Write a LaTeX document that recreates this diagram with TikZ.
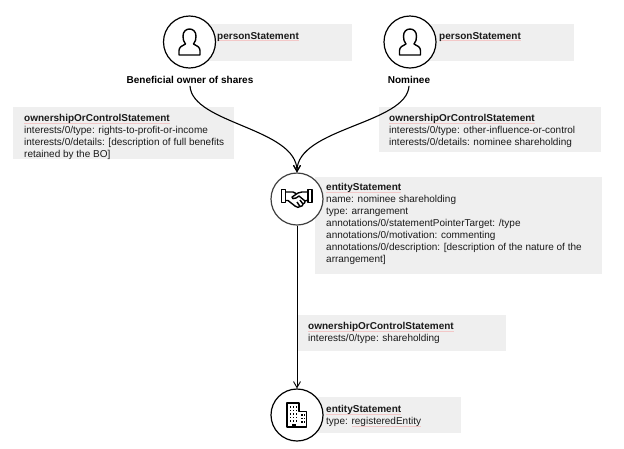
\documentclass[tikz,border=0pt]{standalone}
\usepackage{fontspec}
\setmainfont{Liberation Sans}
\usetikzlibrary{arrows.meta,calc}
\definecolor{panel}{HTML}{EFEFEF}
\definecolor{ink}{HTML}{1A1A1A}
\definecolor{squig}{HTML}{F3C8C8}
\newsavebox{\sqbox}
\newcommand{\sq}[1]{\sbox{\sqbox}{#1}\leavevmode\rlap{\color{squig}\rule[-1.7pt]{\wd\sqbox}{0.6pt}}\usebox{\sqbox}}
\tikzset{
  x=1pt,y=-1pt,
  panelbox/.style={fill=panel,draw=none,inner sep=0pt,anchor=north west},
  paneltext/.style={inner sep=0pt,anchor=north west,align=left,font=\fontsize{10}{11.9}\selectfont,text=ink},
  caption/.style={inner sep=1pt,font=\fontsize{10}{12}\bfseries\selectfont,text=black},
  circ/.style={circle,draw=black,fill=white,line width=1.2pt,minimum size=52pt,inner sep=0pt},
  link/.style={draw=black,line width=1.1pt,-{Straight Barb[length=6pt,width=7pt,line width=1.1pt]}},
  thinlink/.style={draw=black,line width=0.8pt,-{Straight Barb[length=6pt,width=7pt,line width=0.9pt]}},
  icon/.style={draw=black,line width=1.4pt,line join=round}
}
\begin{document}
\begin{tikzpicture}
\useasboundingbox (0,0) rectangle (624,448);
% panels
\node[panelbox,minimum width=152pt,minimum height=37pt] (p1) at (200,24) {};
\node[panelbox,minimum width=154pt,minimum height=37pt] (p2) at (420,24) {};
\node[panelbox,minimum width=221pt,minimum height=52pt] (o1) at (13,107) {};
\node[panelbox,minimum width=222pt,minimum height=45pt] (o2) at (379,107) {};
\node[panelbox,minimum width=287pt,minimum height=97pt] (e1) at (315,177) {};
\node[panelbox,minimum width=208pt,minimum height=36pt] (o3) at (298,315) {};
\node[panelbox,minimum width=146pt,minimum height=36pt] (e2) at (315,397) {};
% panel texts
\node[paneltext] (tp1) at (217,32) {\textbf{\sq{personStatement}}};
\node[paneltext] (tp2) at (439,32) {\textbf{\sq{personStatement}}};
\node[paneltext] (to1) at (24,114.5) {\textbf{\sq{ownershipOrControlStatement}}\\interests/0/type: rights-to-profit-or-income\\interests/0/details: [description of full benefits\\retained by the BO]};
\node[paneltext] (to2) at (389,114.5) {\textbf{\sq{ownershipOrControlStatement}}\\interests/0/type: other-influence-or-control\\interests/0/details: nominee shareholding};
\node[paneltext] (te1) at (326,183.5) {\textbf{\sq{entityStatement}}\\name: nominee shareholding\\type: arrangement\\annotations/0/statementPointerTarget: /type\\annotations/0/motivation: commenting\\annotations/0/description: [description of the nature of the\\arrangement]};
\node[paneltext] (to3) at (308,322.5) {\textbf{\sq{ownershipOrControlStatement}}\\interests/0/type: shareholding};
\node[paneltext] (te2) at (326,405.5) {\textbf{\sq{entityStatement}}\\type: \sq{registeredEntity}};
% circles
\node[circ] (bo) at (189.5,42) {};
\node[circ] (nom) at (410,42) {};
\node[circ,draw=black!75] (arr) at (297,199) {};
\node[circ] (reg) at (297,415) {};
% captions
\node[caption] (cbo) at (190,80) {Beneficial owner of shares};
\node[caption] (cnom) at (409,80) {Nominee};
% connectors
\draw[link] (cbo.south) ++(0,1) .. controls +(2,38) and (297,128) .. (arr.north);
\draw[link] (cnom.south) ++(0,1) .. controls +(-2,38) and (297,128) .. (arr.north);
\draw[thinlink] (arr.south) -- (reg.north);
% person icons
\foreach \c in {bo,nom}{
\begin{scope}[shift={(\c.center)}]
\draw[icon] (-10.5,13) -- (10.5,13) -- (10.5,8.5)
  .. controls (10.5,5) and (7,3.5) .. (4,2)
  .. controls (6,0) and (6.5,-3) .. (6.5,-6)
  .. controls (6.5,-10.5) and (3.5,-13) .. (0,-13)
  .. controls (-3.5,-13) and (-6.5,-10.5) .. (-6.5,-6)
  .. controls (-6.5,-3) and (-6,0) .. (-4,2)
  .. controls (-7,3.5) and (-10.5,5) .. (-10.5,8.5) -- cycle;
\end{scope}}
% handshake icon
\begin{scope}[shift={(arr.center)}]
\draw[icon,line width=1.6pt] (-15.5,-9.5) rectangle (-11.5,3.5);
\draw[icon,line width=1.6pt] (11,-9.5) rectangle (15,3.5);
\draw[icon] (-11.5,-7) -- (-4,-7) -- (-1,-5.5);
\draw[icon] (-11.5,1.5) -- (-9,1.5) -- (-2,7) .. controls (0,9) and (2,8.5) .. (3,7.5) .. controls (5,7.5) and (6,6.5) .. (6,5) .. controls (8,4.5) and (8,3) .. (8,2) -- (11,1);
\draw[icon] (11,-7) -- (5,-7) -- (1,-6) -- (-5,-2) .. controls (-6,-0.5) and (-3,0.5) .. (-1,-1) -- (2,-3) -- (8,2);
\draw[icon] (3,1) -- (6,5);
\draw[icon] (0,3) -- (3,7.5);
\end{scope}
% building icon
\begin{scope}[shift={(reg.center)}]
\draw[icon] (-10,12) -- (-10,-12) -- (2,-12) -- (2,-3.5) -- (9.5,-3.5) -- (9.5,12) -- cycle;
\foreach \yy in {-9,-5.5,-2,1.5,5}{
  \foreach \xx in {-7.5,-4.5,-1.5}{\fill (\xx,\yy) rectangle +(1.7,1.7);}}
\foreach \yy in {-1,2.5,6}{
  \foreach \xx in {4,6.8}{\fill (\xx,\yy) rectangle +(1.5,1.7);}}
\fill (-5,8.5) rectangle (-1.5,12);
\end{scope}
\end{tikzpicture}
\end{document}
